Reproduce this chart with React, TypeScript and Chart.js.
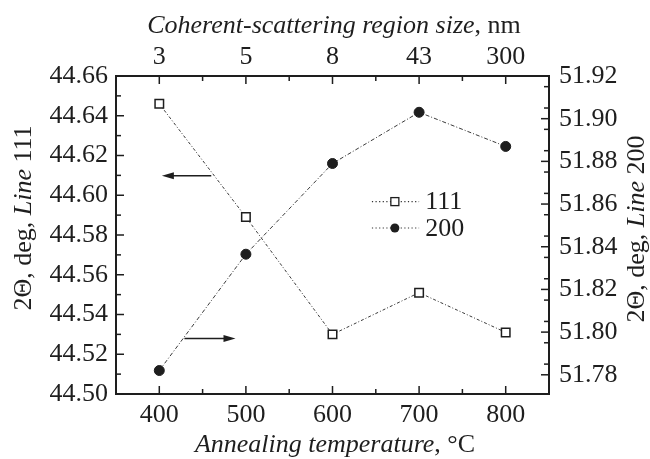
import React, { useEffect, useRef } from 'react';
import { Chart, registerables } from 'chart.js';
Chart.register(...registerables);

const temperatures = [400, 500, 600, 700, 800];
const csrSizes = ['3', '5', '8', '43', '300'];
const line111 = [44.646, 44.589, 44.530, 44.551, 44.531];
const line200 = [51.782, 51.8365, 51.879, 51.903, 51.887];
const leftTicks = [44.50, 44.52, 44.54, 44.56, 44.58, 44.60, 44.62, 44.64, 44.66];
const leftMinor = [44.51, 44.53, 44.55, 44.57, 44.59, 44.61, 44.63, 44.65];
const rightTicks = [51.78, 51.80, 51.82, 51.84, 51.86, 51.88, 51.90, 51.92];
const rightMinor = [51.785, 51.795, 51.805, 51.815, 51.825, 51.835, 51.845, 51.855, 51.865, 51.875, 51.885, 51.895, 51.905, 51.915];
const xMinor = [450, 550, 650, 750];
const seriesLabels = ['111', '200'];

const FONT = '"Liberation Serif", "Times New Roman", serif';
const INK = '#1e1e1e';

type Part = [string, boolean];

function drawParts(ctx: CanvasRenderingContext2D, parts: Part[], x: number, y: number, size: number) {
  let total = 0;
  const widths = parts.map(([t, it]) => {
    ctx.font = `${it ? 'italic ' : ''}${size}px ${FONT}`;
    const w = ctx.measureText(t).width;
    total += w;
    return w;
  });
  let cx = x - total / 2;
  ctx.textAlign = 'left';
  ctx.textBaseline = 'alphabetic';
  parts.forEach(([t, it], i) => {
    ctx.font = `${it ? 'italic ' : ''}${size}px ${FONT}`;
    ctx.fillText(t, cx, y);
    cx += widths[i];
  });
}

function arrow(ctx: CanvasRenderingContext2D, x0: number, x1: number, y: number) {
  const dir = Math.sign(x1 - x0);
  ctx.beginPath();
  ctx.moveTo(x0, y);
  ctx.lineTo(x1 - dir * 8, y);
  ctx.lineWidth = 1.4;
  ctx.strokeStyle = INK;
  ctx.stroke();
  ctx.beginPath();
  ctx.moveTo(x1, y);
  ctx.lineTo(x1 - dir * 12, y - 3.5);
  ctx.lineTo(x1 - dir * 12, y + 3.5);
  ctx.closePath();
  ctx.fillStyle = INK;
  ctx.fill();
}

const decorPlugin = {
  id: 'decor',
  afterDraw(chart: any) {
    const ctx: CanvasRenderingContext2D = chart.ctx;
    const { left, right, top, bottom } = chart.chartArea;
    const sx = chart.scales.x;
    const sy = chart.scales.y;
    const sy2 = chart.scales.y2;
    ctx.save();
    // frame
    ctx.strokeStyle = INK;
    ctx.lineWidth = 2;
    ctx.strokeRect(left, top, right - left, bottom - top);
    // ticks (inward)
    ctx.lineWidth = 1.5;
    const vt = (px: number, len: number) => {
      ctx.beginPath();
      ctx.moveTo(px, bottom); ctx.lineTo(px, bottom - len);
      ctx.moveTo(px, top); ctx.lineTo(px, top + len);
      ctx.stroke();
    };
    temperatures.forEach(v => vt(sx.getPixelForValue(v), 8));
    xMinor.forEach(v => vt(sx.getPixelForValue(v), 5));
    const ht = (py: number, len: number, side: 'l' | 'r') => {
      ctx.beginPath();
      if (side === 'l') { ctx.moveTo(left, py); ctx.lineTo(left + len, py); }
      else { ctx.moveTo(right, py); ctx.lineTo(right - len, py); }
      ctx.stroke();
    };
    leftTicks.forEach(v => ht(sy.getPixelForValue(v), 8, 'l'));
    leftMinor.forEach(v => ht(sy.getPixelForValue(v), 5, 'l'));
    rightTicks.forEach(v => ht(sy2.getPixelForValue(v), 8, 'r'));
    rightMinor.forEach(v => ht(sy2.getPixelForValue(v), 5, 'r'));

    // arrows
    arrow(ctx, sx.getPixelForValue(460), sx.getPixelForValue(403), sy.getPixelForValue(44.6098));
    arrow(ctx, sx.getPixelForValue(429), sx.getPixelForValue(488), sy2.getPixelForValue(51.797));

    // legend
    const w = right - left, h = bottom - top;
    const lx0 = left + 0.591 * w, lx1 = left + 0.70 * w, lm = left + 0.644 * w, lt = left + 0.714 * w;
    const rows = [top + 0.395 * h, top + 0.478 * h];
    rows.forEach((ry, i) => {
      ctx.beginPath();
      ctx.setLineDash([1.2, 2.4]);
      ctx.lineWidth = 1.2;
      ctx.strokeStyle = '#333';
      ctx.moveTo(lx0, ry); ctx.lineTo(lx1, ry);
      ctx.stroke();
      ctx.setLineDash([]);
      if (i === 0) {
        ctx.fillStyle = '#fff';
        ctx.fillRect(lm - 4, ry - 4, 8, 8);
        ctx.lineWidth = 1.3;
        ctx.strokeStyle = INK;
        ctx.strokeRect(lm - 4, ry - 4, 8, 8);
      } else {
        ctx.beginPath();
        ctx.arc(lm, ry, 4.5, 0, Math.PI * 2);
        ctx.fillStyle = INK;
        ctx.fill();
      }
      ctx.fillStyle = INK;
      ctx.font = `26px ${FONT}`;
      ctx.textAlign = 'left';
      ctx.textBaseline = 'middle';
      ctx.fillText(seriesLabels[i], lt, ry + 1);
    });

    // titles
    ctx.fillStyle = INK;
    drawParts(ctx, [['Coherent-scattering region size', true], [', nm', false]], 334, 33, 26);
    drawParts(ctx, [['Annealing temperature', true], [', °C', false]], 335, 452, 26);
    ctx.save();
    ctx.translate(31, 218);
    ctx.rotate(-Math.PI / 2);
    drawParts(ctx, [['2Θ, deg, ', false], ['Line', true], [' 111', false]], 0, 0, 26);
    ctx.restore();
    ctx.save();
    ctx.translate(644, 229);
    ctx.rotate(-Math.PI / 2);
    drawParts(ctx, [['2Θ, deg, ', false], ['Line', true], [' 200', false]], 0, 0, 26);
    ctx.restore();
    ctx.restore();
  },
};

export default function App() {
  const ref = useRef<HTMLCanvasElement>(null);
  useEffect(() => {
    if (!ref.current) return;
    const tickFont = { family: FONT, size: 26 };
    const fixTicks = (values: number[]) => (scale: any) => {
      scale.ticks = values.map(v => ({ value: v }));
    };
    const chart = new Chart(ref.current, {
      type: 'line',
      data: {
        datasets: [
          {
            label: seriesLabels[0],
            data: temperatures.map((t, i) => ({ x: t, y: line111[i] })),
            yAxisID: 'y',
            xAxisID: 'x',
            borderColor: '#3a3a3a',
            borderWidth: 1,
            borderDash: [3, 2, 1, 2],
            pointStyle: 'rect',
            pointRadius: 6,
            pointBackgroundColor: '#fff',
            pointBorderColor: INK,
            pointBorderWidth: 1.5,
            fill: false,
            tension: 0,
          },
          {
            label: seriesLabels[1],
            data: temperatures.map((t, i) => ({ x: t, y: line200[i] })),
            yAxisID: 'y2',
            xAxisID: 'x',
            borderColor: '#3a3a3a',
            borderWidth: 1,
            borderDash: [4, 2, 1, 2],
            pointStyle: 'circle',
            pointRadius: 5,
            pointBackgroundColor: INK,
            pointBorderColor: INK,
            pointBorderWidth: 1,
            fill: false,
            tension: 0,
          },
        ],
      },
      options: {
        animation: false,
        responsive: false,
        devicePixelRatio: 1,
        layout: { padding: 0 },
        plugins: { legend: { display: false }, tooltip: { enabled: false } },
        scales: {
          x: {
            type: 'linear',
            position: 'bottom',
            min: 350,
            max: 850,
            afterBuildTicks: fixTicks(temperatures),
            afterFit: (s: any) => { s.height = 65; },
            grid: { display: false, drawTicks: false },
            border: { display: false },
            ticks: { font: tickFont, color: INK, padding: 6, maxRotation: 0, autoSkip: false, callback: (v: any) => String(v) },
          },
          x2: {
            type: 'linear',
            position: 'top',
            min: 350,
            max: 850,
            afterBuildTicks: fixTicks(temperatures),
            afterFit: (s: any) => { s.height = 76; },
            grid: { display: false, drawTicks: false },
            border: { display: false },
            ticks: {
              font: tickFont, color: INK, padding: 3, maxRotation: 0, autoSkip: false,
              callback: (v: any) => csrSizes[temperatures.indexOf(Number(v))] ?? '',
            },
          },
          y: {
            type: 'linear',
            position: 'left',
            min: 44.50,
            max: 44.66,
            afterBuildTicks: fixTicks(leftTicks),
            afterFit: (s: any) => { s.width = 116; },
            grid: { display: false, drawTicks: false },
            border: { display: false },
            ticks: { font: tickFont, color: INK, padding: 8, autoSkip: false, callback: (v: any) => Number(v).toFixed(2) },
          },
          y2: {
            type: 'linear',
            position: 'right',
            min: 51.771,
            max: 51.92,
            afterBuildTicks: fixTicks(rightTicks),
            afterFit: (s: any) => { s.width = 101; },
            grid: { display: false, drawTicks: false },
            border: { display: false },
            ticks: { font: tickFont, color: INK, padding: 10, autoSkip: false, callback: (v: any) => Number(v).toFixed(2) },
          },
        },
      } as any,
      plugins: [decorPlugin],
    });
    return () => chart.destroy();
  }, []);
  return (
    <div style={{ position: 'absolute', left: 0, top: 0, width: 650, height: 459, background: '#fff' }}>
      <canvas ref={ref} width={650} height={459} />
    </div>
  );
}
